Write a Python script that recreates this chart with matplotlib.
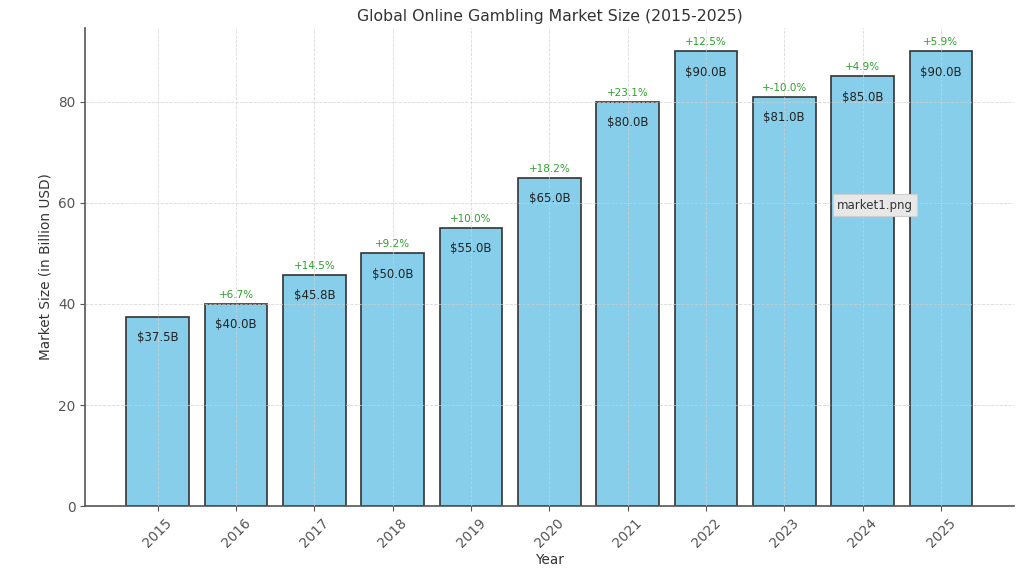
import matplotlib
matplotlib.use("Agg")
import matplotlib.pyplot as plt

years = [2015, 2016, 2017, 2018, 2019, 2020, 2021, 2022, 2023, 2024, 2025]
market_size = [37.5, 40.0, 45.8, 50.0, 55.0, 65.0, 80.0, 90.0, 81.0, 85.0, 90.0]
growth = ["+6.7%", "+14.5%", "+9.2%", "+10.0%", "+18.2%", "+23.1%",
          "+12.5%", "+-10.0%", "+4.9%", "+5.9%"]

txt = "#333333"
fig = plt.figure(figsize=(10.24, 5.7), dpi=100)
ax = fig.add_axes([0.083, 0.112, 0.907, 0.839])

bars = ax.bar(years, market_size, width=0.8, color="skyblue",
              edgecolor="#333333", linewidth=1.2, zorder=1)
ax.grid(True, linestyle="--", linewidth=0.6, color="#d0d0d0", alpha=0.8, zorder=2)
ax.set_axisbelow(False)

for b, v in zip(bars, market_size):
    ax.annotate(f"${v:.1f}B", (b.get_x() + b.get_width() / 2, v),
                xytext=(0, -15), textcoords="offset points", ha="center",
                va="center", fontsize=8.5, color="#222222")

for b, g in zip(bars[1:], growth):
    ax.annotate(g, (b.get_x() + b.get_width() / 2, b.get_height()),
                xytext=(0, 6.5), textcoords="offset points", ha="center",
                va="center", fontsize=7.5, color="#2ca02c")

ax.set_xlim(years[0] - 0.93, years[-1] + 0.93)
ax.set_ylim(0, 94.6)
ax.set_xticks(years)
ax.set_xticklabels([str(y) for y in years], rotation=45, color=txt, fontsize=9.8)
ax.tick_params(axis="y", labelcolor=txt, labelsize=9.8)
ax.tick_params(colors="#555555")
ax.set_title("Global Online Gambling Market Size (2015-2025)", fontsize=11.3,
             color=txt, pad=5)
ax.set_xlabel("Year", color=txt, fontsize=9.8, labelpad=2)
ax.set_ylabel("Market Size (in Billion USD)", color=txt, fontsize=9.8, labelpad=4)
for s in ["top", "right"]:
    ax.spines[s].set_visible(False)
for s in ["left", "bottom"]:
    ax.spines[s].set_color("#555555")
    ax.spines[s].set_linewidth(1.2)

fig.text(875 / 1024, 1 - 205 / 570, "market1.png", ha="center", va="center",
         fontsize=8.5, color="#333333",
         bbox=dict(boxstyle="square,pad=0.35", fc="#e8e8e8", ec="#cfcfcf", lw=0.8))

fig.savefig("out.png", dpi=100)
